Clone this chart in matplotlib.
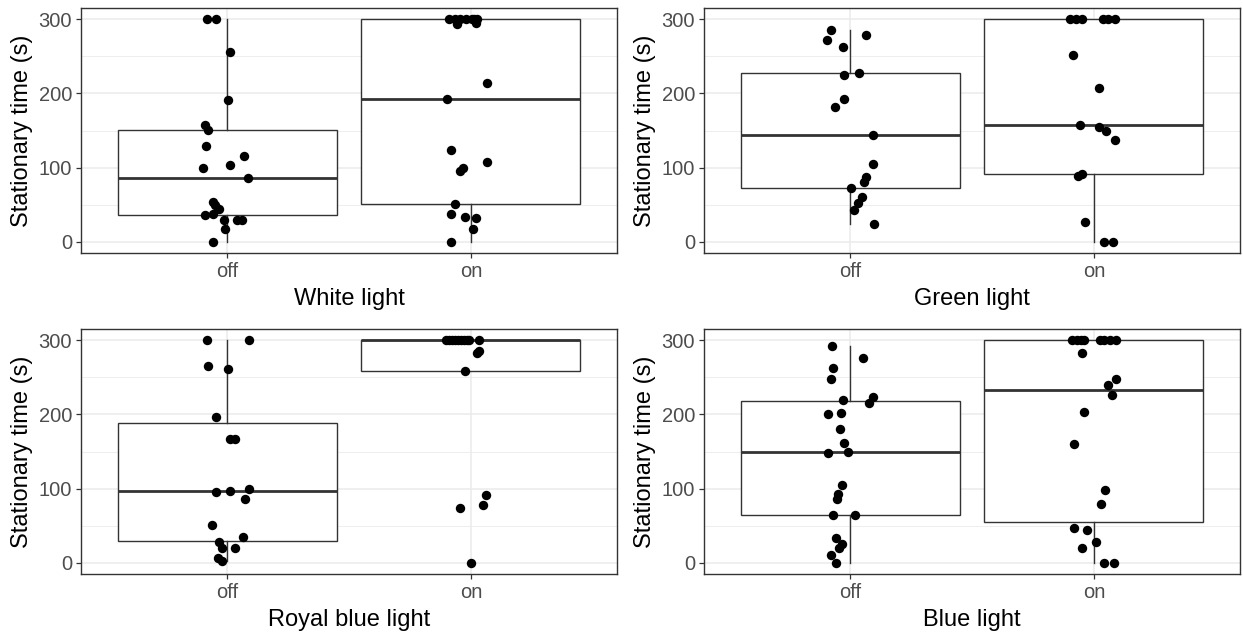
import numpy as np
import matplotlib
matplotlib.use('Agg')
import matplotlib.pyplot as plt

plt.rcParams['font.family'] = ['Liberation Sans', 'DejaVu Sans']

groups = ['off', 'on']
ylabel = 'Stationary time (s)'

# values; *_jit = horizontal jitter offset of each point
white_off = [300, 300, 256, 191, 157, 151, 129, 115, 100, 103, 86,
             54, 50, 44, 38, 36, 29, 30, 30, 17, 0]
white_off_jit = [-0.081, -0.044, 0.010, 0.005, -0.093, -0.078, -0.088, 0.067, -0.098, 0.010, 0.086,
                 -0.057, -0.052, -0.033, -0.060, -0.093, -0.015, 0.042, 0.062, -0.007, -0.060]
white_on = [300, 300, 300, 300, 300, 300, 300, 293, 295, 214, 193, 124,
            108, 100, 96, 51, 38, 33, 32, 18, 0]
white_on_jit = [-0.088, -0.063, -0.044, -0.020, 0.005, 0.026, 0.012, -0.055, 0.021, 0.067, -0.098, -0.083,
                0.067, -0.031, -0.044, -0.065, -0.083, -0.023, 0.021, 0.010, -0.083]

green_off = [286, 272, 278, 262, 225, 228, 193, 181, 144, 105, 88, 80, 73, 60, 53, 43, 24]
green_off_jit = [-0.078, -0.095, 0.065, -0.029, -0.026, 0.036, -0.026, -0.062, 0.092, 0.092,
                 0.065, 0.057, 0.003, 0.049, 0.031, 0.016, 0.096]
green_on = [300, 300, 300, 300, 300, 300, 252, 207, 157, 155, 149, 137, 89, 91, 27, 0, 0]
green_on_jit = [-0.096, -0.072, -0.047, 0.038, 0.059, 0.087, -0.087, 0.021, -0.057, 0.021,
                0.052, 0.087, -0.065, -0.049, -0.036, 0.041, 0.077]

royal_off = [300, 300, 265, 261, 196, 167, 167, 96, 97, 100, 86, 51, 35, 28, 20, 20, 7, 3]
royal_off_jit = [-0.081, 0.091, -0.078, 0.005, -0.046, 0.010, 0.033, -0.046, 0.010, 0.088,
                 0.073, -0.062, 0.063, -0.033, -0.020, 0.031, -0.036, -0.020]
royal_on = [300, 300, 300, 300, 300, 300, 300, 300, 300, 300, 283, 285, 259, 78, 91, 74, 0]
royal_on_jit = [-0.100, -0.090, -0.076, -0.065, -0.052, -0.040, -0.028, -0.015, -0.008, 0.034,
                0.024, 0.034, -0.024, 0.050, 0.062, -0.044, 0.000]

blue_off = [292, 276, 263, 248, 219, 216, 223, 200, 202, 180, 161, 148, 150,
            105, 93, 86, 64, 64, 34, 25, 20, 11, 0]
blue_off_jit = [-0.074, 0.053, -0.070, -0.079, -0.029, 0.078, 0.092, -0.090, -0.038, -0.043, -0.025, -0.090, -0.011,
                -0.035, -0.049, -0.056, -0.070, 0.019, -0.060, -0.033, -0.046, -0.080, -0.059]
blue_on = [300, 300, 300, 300, 300, 300, 300, 300, 283, 248, 240, 226, 203, 160,
           98, 79, 47, 44, 28, 20, 0, 0]
blue_on_jit = [-0.090, -0.052, -0.041, 0.025, 0.041, 0.065, 0.090, -0.070, -0.049, 0.090, 0.057, 0.074, -0.041, -0.082,
               0.046, 0.029, -0.082, -0.028, 0.010, -0.049, 0.041, 0.082]

panels = [
    ('White light', white_off, white_off_jit, white_on, white_on_jit),
    ('Green light', green_off, green_off_jit, green_on, green_on_jit),
    ('Royal blue light', royal_off, royal_off_jit, royal_on, royal_on_jit),
    ('Blue light', blue_off, blue_off_jit, blue_on, blue_on_jit),
]

W, H = 1243, 637
# axes boxes in pixels: left, top, right, bottom
boxes = [(81, 8, 617, 253), (704, 8, 1240, 253),
         (81, 329, 617, 574), (704, 329, 1240, 574)]

dark = '#333333'
grid = '#EBEBEB'

fig = plt.figure(figsize=(W / 100, H / 100), dpi=100)

for (l, t, r, b), (name, off, offj, on, onj) in zip(boxes, panels):
    ax = fig.add_axes([l / W, 1 - b / H, (r - l) / W, (b - t) / H])
    ax.boxplot([off, on], positions=[1, 2], widths=0.9, showfliers=False,
               showcaps=False, patch_artist=True, whis=1.5,
               boxprops=dict(facecolor='white', edgecolor=dark, linewidth=1.0),
               medianprops=dict(color=dark, linewidth=2.0),
               whiskerprops=dict(color=dark, linewidth=1.0), zorder=2)
    for pos, vals, jit in ((1, off, offj), (2, on, onj)):
        ax.scatter(pos + np.array(jit), vals, s=46, color='black',
                   linewidths=0, zorder=3)

    ax.set_xlim(0.4, 2.6)
    ax.set_ylim(-15, 315)
    ax.set_xticks([1, 2])
    ax.set_xticklabels(groups)
    ax.set_yticks([0, 100, 200, 300])
    ax.set_yticks([50, 150, 250], minor=True)
    ax.tick_params(axis='both', which='major', length=3.5, width=0.9, color=dark,
                   labelsize=14.5, labelcolor='#4D4D4D', pad=3)
    ax.tick_params(axis='y', which='minor', length=0)
    ax.grid(True, which='major', color=grid, linewidth=1.1)
    ax.grid(True, which='minor', axis='y', color=grid, linewidth=0.6)
    ax.set_axisbelow(True)
    for sp in ax.spines.values():
        sp.set_color(dark)
        sp.set_linewidth(1.0)
    ax.set_xlabel(name, fontsize=17, labelpad=5)
    ax.set_ylabel(ylabel, fontsize=17, labelpad=4)

fig.savefig('out.png', dpi=100, facecolor='white')
